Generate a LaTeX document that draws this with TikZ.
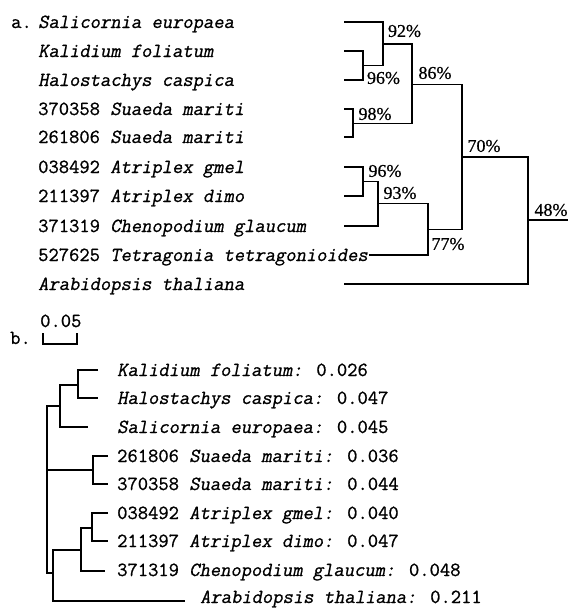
\documentclass[tikz,border=0pt]{standalone}
\usepackage{fontspec}
\newfontfamily\pctfont{Liberation Serif}[FakeBold=0.6]
\newfontfamily\monof{Latin Modern Mono}[FakeBold=0.9]
\newfontfamily\monosl{Latin Modern Mono}[FakeBold=0.9,FakeSlant=0.2]
\begin{document}
\begin{tikzpicture}[x=1pt,y=-1pt,
  lab/.style={anchor=base west,inner sep=0pt,font=\fontsize{20}{24}\selectfont\monof},
  pct/.style={inner sep=0pt,font=\fontsize{18}{20}\selectfont\pctfont},
  treea/.style={line width=1.8pt},
  treeb/.style={line width=2.8pt}]
\useasboundingbox[fill=white] (0,0) rectangle (568,608);
% ---------- panel a ----------
\node[lab] (la) at (11,28) {a.};
\node[lab] (a1) at (38,28) {\monosl Salicornia europaea};
\node[lab] (a2) at (38,57) {\monosl Kalidium foliatum};
\node[lab] (a3) at (38,86) {\monosl Halostachys caspica};
\node[lab] (a4) at (38,115) {370358 {\monosl Suaeda mariti}};
\node[lab] (a5) at (38,143) {261806 {\monosl Suaeda mariti}};
\node[lab] (a6) at (38,173) {038492 {\monosl Atriplex gmel}};
\node[lab] (a7) at (38,202) {211397 {\monosl Atriplex dimo}};
\node[lab] (a8) at (38,232) {371319 {\monosl Chenopodium glaucum}};
\node[lab] (a9) at (38,261) {527625 {\monosl Tetragonia tetragonioides}};
\node[lab] (a10) at (38,290) {\monosl Arabidopsis thaliana};
\coordinate (l1) at (344,22);
\coordinate (l2) at (344,51);
\coordinate (l3) at (344,80);
\coordinate (l4) at (344,109);
\coordinate (l5) at (344,137);
\coordinate (l6) at (344,167);
\coordinate (l7) at (344,196);
\coordinate (l8) at (344,226);
\coordinate (l9) at (369,255);
\coordinate (l10) at (344,284);
\coordinate (j96a) at (363,65.5);
\coordinate (j92) at (383,44);
\coordinate (j98) at (353,123.5);
\coordinate (j86) at (412,84.5);
\coordinate (j96b) at (363,181.5);
\coordinate (j93) at (378,203.5);
\coordinate (j77) at (428,229.5);
\coordinate (j70) at (462,157);
\coordinate (j48) at (528,220);
\coordinate (ra) at (568,220);
\draw[treea] (l2) -| (j96a) |- (l3);
\draw[treea] (l1) -| (j92) |- (j96a);
\draw[treea] (l4) -| (j98) |- (l5);
\draw[treea] (j92) -| (j86) |- (j98);
\draw[treea] (l6) -| (j96b) |- (l7);
\draw[treea] (j96b) -| (j93) |- (l8);
\draw[treea] (j93) -| (j77) |- (l9);
\draw[treea] (j86) -| (j70) |- (j77);
\draw[treea] (j70) -| (j48) |- (l10);
\draw[treea] (j48) -- (ra);
\node[pct] (p92) at (404.5,31) {92\%};
\node[pct] (p96a) at (383.5,78) {96\%};
\node[pct] (p98) at (375,114) {98\%};
\node[pct] (p86) at (435,73) {86\%};
\node[pct] (p70) at (484,146) {70\%};
\node[pct] (p96b) at (385,171) {96\%};
\node[pct] (p93) at (400,193) {93\%};
\node[pct] (p77) at (448,244) {77\%};
\node[pct] (p48) at (551,210) {48\%};
% ---------- panel b ----------
\node[lab] (lb) at (10,344) {b.};
\node[lab] (sc) at (40,327) {0.05};
\coordinate (s1) at (43,333);
\coordinate (s2) at (77,333);
\draw[line width=2.4pt] (s1) -- ++(0,11) -| (s2);
\node[lab] (t1) at (117,376) {{\monosl Kalidium foliatum:} 0.026};
\node[lab] (t2) at (117,404) {{\monosl Halostachys caspica:} 0.047};
\node[lab] (t3) at (117,433) {{\monosl Salicornia europaea:} 0.045};
\node[lab] (t4) at (117,462) {261806 {\monosl Suaeda mariti:} 0.036};
\node[lab] (t5) at (117,490) {370358 {\monosl Suaeda mariti:} 0.044};
\node[lab] (t6) at (117,519) {038492 {\monosl Atriplex gmel:} 0.040};
\node[lab] (t7) at (117,547) {211397 {\monosl Atriplex dimo:} 0.047};
\node[lab] (t8) at (117,576) {371319 {\monosl Chenopodium glaucum:} 0.048};
\node[lab] (t9) at (200,603) {{\monosl Arabidopsis thaliana:} 0.211};
\coordinate (b1) at (98,370);
\coordinate (b2) at (98,398);
\coordinate (b3) at (88,427);
\coordinate (b4) at (108,456);
\coordinate (b5) at (108,484);
\coordinate (b6) at (108,513);
\coordinate (b7) at (108,541);
\coordinate (b8) at (105,571);
\coordinate (b9) at (185,601);
\coordinate (k1) at (78,385);
\coordinate (k2) at (60,406);
\coordinate (k3) at (93,470);
\coordinate (k4) at (92,528);
\coordinate (k5) at (81,550);
\coordinate (k6) at (53,573);
\coordinate (r) at (47,470);
\draw[treeb] (b1) -| (k1) |- (b2);
\draw[treeb] (k1) -| (k2) |- (b3);
\draw[treeb] (b4) -| (k3) |- (b5);
\draw[treeb] (b6) -| (k4) |- (b7);
\draw[treeb] (k4) -| (k5) |- (b8);
\draw[treeb] (k5) -| (k6) |- (b9);
\draw[treeb] (k2) -| (r) |- (k6);
\draw[treeb] (r) -- (k3);
\end{tikzpicture}
\end{document}
